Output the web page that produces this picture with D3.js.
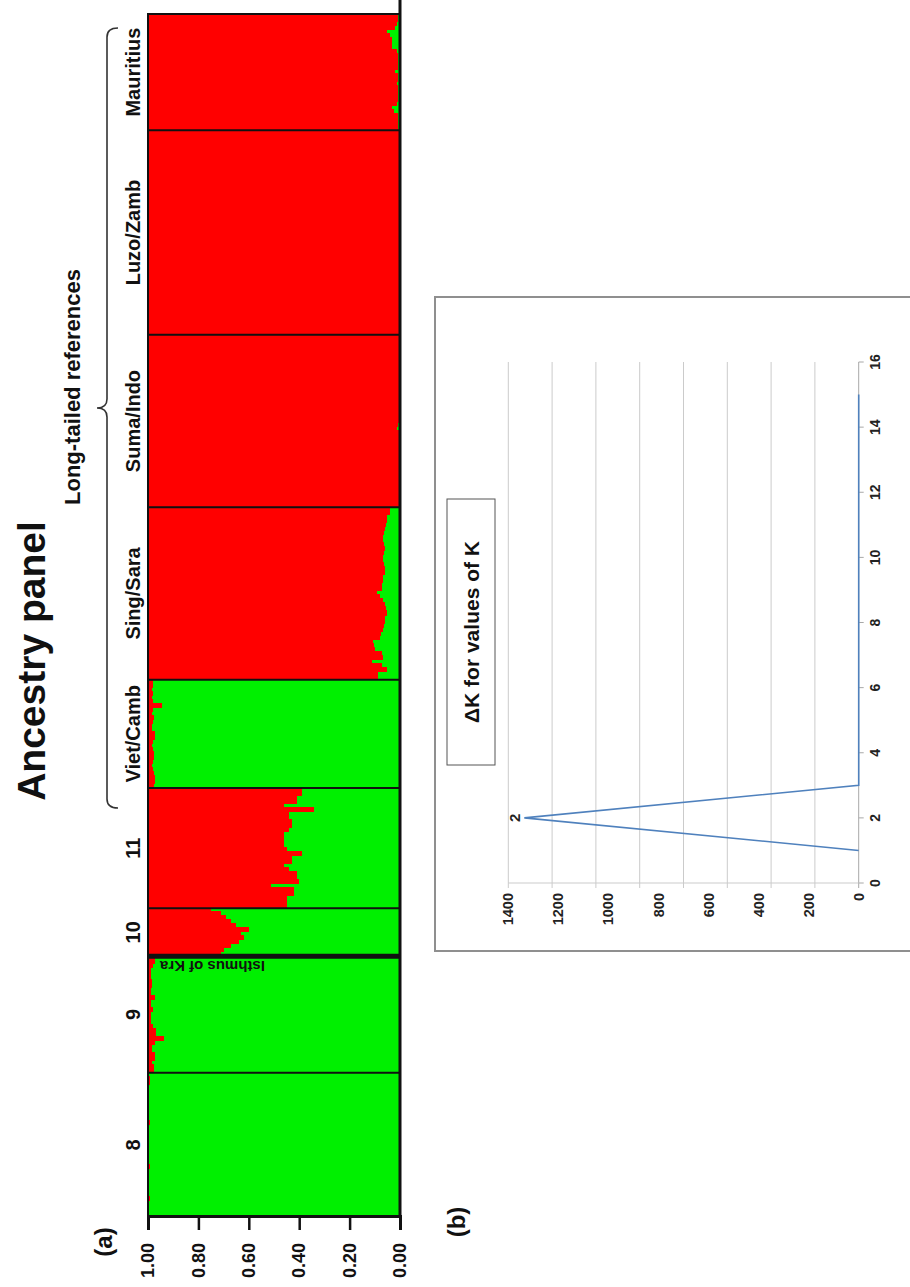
<!DOCTYPE html>
<html>
<head>
<meta charset="utf-8">
<script src="https://cdn.jsdelivr.net/npm/d3@7"></script>
<style>
  body { margin: 0; background: #fff; }
  svg { display: block; }
  text { font-family: "Liberation Sans", Arial, Helvetica, sans-serif; }
</style>
</head>
<body>
<svg id="fig" width="910" height="1287"></svg>
<script>
// ---------------------------------------------------------------
// (a) STRUCTURE, K = 2: share of each individual assigned to the
//     red cluster (the rest belongs to the green cluster)
// ---------------------------------------------------------------
const populations = ["8", "9", "10", "11", "Viet/Camb", "Sing/Sara", "Suma/Indo", "Luzo/Zamb", "Mauritius"];

const pop8 = [0.004,0.005,0.004,0.003,0.006,0.004,0.004,0.005,0.003,0.004,
  0.005,0.004,0.006,0.004,0.003,0.004,0.005,0.004,0.004,0.003,
  0.005,0.004,0.004,0.006,0.004,0.003,0.004,0.005,0.004,0.004,
  0.003,0.005,0.004,0.006,0.008,0.005];
const pop9 = [0.024,0.024,0.015,0.028,0.028,0.015,0.015,0.028,0.065,0.032,
  0.032,0.021,0.011,0.011,0.011,0.019,0.011,0.011,0.028,0.011,
  0.011,0.015,0.015,0.011,0.011,0.011,0.019,0.028,0.028];
const pop10 = [0.29,0.30,0.33,0.36,0.38,0.37,0.40,0.35,0.33,0.31,0.29,0.25];
const pop11 = [0.55,0.55,0.55,0.58,0.58,0.49,0.60,0.59,0.59,0.56,
  0.54,0.57,0.57,0.61,0.55,0.54,0.54,0.54,0.54,0.56,
  0.57,0.57,0.56,0.56,0.66,0.54,0.59,0.59,0.61,0.61];
const vietCamb = [0.024,0.028,0.028,0.024,0.019,0.015,0.019,0.024,0.024,0.019,
  0.015,0.019,0.028,0.028,0.015,0.015,0.019,0.024,0.015,0.019,
  0.054,0.019,0.015,0.019,0.015,0.019,0.019];
const singSara = [0.914,0.914,0.947,0.927,0.888,0.934,0.930,0.901,0.897,0.894,
  0.921,0.925,0.934,0.937,0.940,0.940,0.947,0.945,0.940,0.934,
  0.920,0.907,0.927,0.930,0.934,0.934,0.940,0.940,0.937,0.934,
  0.934,0.937,0.940,0.937,0.934,0.934,0.937,0.940,0.945,0.950,
  0.950,0.960,0.960];
const sumaIndo = [0.997,0.998,0.997,0.996,0.998,0.997,0.997,0.998,0.996,0.997,
  0.998,0.997,0.997,0.996,0.998,0.997,0.997,0.998,0.995,0.988,
  0.993,0.997,0.998,0.997,0.996,0.997,0.998,0.997,0.997,0.996,
  0.998,0.997,0.997,0.998,0.997,0.996,0.997,0.998,0.997,0.997,
  0.996,0.998,0.997];
const luzoZamb = [0.998,0.998,0.997,0.998,0.999,0.998,0.998,0.997,0.998,0.998,
  0.999,0.998,0.998,0.997,0.998,0.998,0.999,0.998,0.998,0.997,
  0.998,0.998,0.999,0.998,0.998,0.997,0.998,0.998,0.999,0.998,
  0.998,0.997,0.998,0.998,0.999,0.998,0.998,0.997,0.998,0.998,
  0.999,0.998,0.998,0.997,0.998,0.998,0.999,0.998,0.998,0.997,
  0.998];
const mauritius = [0.992,0.992,0.992,0.992,0.975,0.967,0.988,0.992,0.992,0.992,
  0.992,0.988,0.992,0.992,0.980,0.992,0.992,0.992,0.992,0.988,
  0.970,0.970,0.967,0.960,0.947,0.980,0.988,0.992,0.992];

const redShare = [pop8, pop9, pop10, pop11, vietCamb, singSara, sumaIndo, luzoZamb, mauritius];
const ancestryTicks = [0, 0.2, 0.4, 0.6, 0.8, 1.0];

// ---------------------------------------------------------------
// (b) Evanno delta K for each K
// ---------------------------------------------------------------
const kValues = [1, 2, 3, 4, 5, 6, 7, 8, 9, 10, 11, 12, 13, 14, 15];
const deltaK  = [0, 1336, 0, 0, 0, 0, 0, 0, 0, 0, 0, 0, 0, 0, 0];
const kTicks = [0, 2, 4, 6, 8, 10, 12, 14, 16];
const deltaKTicks = [0, 200, 400, 600, 800, 1000, 1200, 1400];
const deltaKGrid = [0, 175, 350, 525, 700, 875, 1050, 1225, 1400];

// ---------------------------------------------------------------
// The figure is laid out landscape (1287 x 910) and turned a
// quarter turn counter-clockwise onto the portrait page.
// ---------------------------------------------------------------
const PAGE_H = 1287;
const RED = "#ff0000", GREEN = "#00f000";
const svg = d3.select("#fig");
const fig = svg.append("g").attr("transform", `translate(0,${PAGE_H}) rotate(-90)`);

// ===================== panel (a) ===============================
const individuals = [];
redShare.forEach((arr, p) => arr.forEach((v, i) => individuals.push({ pop: p, id: p + "-" + i, red: v })));

const xA = d3.scaleBand().domain(individuals.map(d => d.id)).range([70, 1273]).padding(0);
const yA = d3.scaleLinear().domain([0, 1]).range([400, 148]);

const bars = fig.append("g").attr("shape-rendering", "crispEdges");
bars.selectAll("rect.green").data(individuals).join("rect")
  .attr("class", "green")
  .attr("x", d => xA(d.id)).attr("width", xA.bandwidth() + 1)
  .attr("y", d => yA(1 - d.red)).attr("height", d => yA(0) - yA(1 - d.red))
  .attr("fill", GREEN);
bars.selectAll("rect.red").data(individuals).join("rect")
  .attr("class", "red")
  .attr("x", d => xA(d.id)).attr("width", xA.bandwidth() + 1)
  .attr("y", yA(1)).attr("height", d => yA(1 - d.red) - yA(1))
  .attr("fill", RED);

// population boundaries
const groupStart = populations.map((p, k) => xA(k + "-0"));
const groupEnd = populations.map((p, k) => xA(k + "-" + (redShare[k].length - 1)) + xA.bandwidth());
fig.append("g").selectAll("line").data(groupStart.slice(1)).join("line")
  .attr("x1", d => d).attr("x2", d => d)
  .attr("y1", yA(1)).attr("y2", yA(0))
  .attr("stroke", "#111")
  .attr("stroke-width", (d, i) => i === 1 ? 5 : 2);

// frame
fig.append("rect")
  .attr("x", 70).attr("y", yA(1)).attr("width", 1273 - 70).attr("height", yA(0) - yA(1))
  .attr("fill", "none").attr("stroke", "#111").attr("stroke-width", 2);
fig.append("line")
  .attr("x1", 70).attr("x2", 1290).attr("y1", yA(0)).attr("y2", yA(0))
  .attr("stroke", "#111").attr("stroke-width", 3);

// ancestry axis
const axA = fig.append("g").attr("transform", "translate(70,0)")
  .call(d3.axisLeft(yA).tickValues(ancestryTicks).tickFormat(d3.format(".2f")).tickSize(13).tickPadding(13));
axA.select(".domain").attr("stroke", "#111").attr("stroke-width", 3);
axA.selectAll(".tick line").attr("stroke", "#111").attr("stroke-width", 2.5);
axA.selectAll(".tick text").attr("font-size", 18).attr("font-weight", "bold").attr("fill", "#111");

// population labels
fig.append("g").selectAll("text").data(populations).join("text")
  .attr("x", (d, k) => (groupStart[k] + groupEnd[k]) / 2)
  .attr("y", 140)
  .attr("text-anchor", "middle")
  .attr("font-size", 20).attr("font-weight", "bold").attr("fill", "#111")
  .text(d => d);

// Isthmus of Kra marker along the 9 | 10 boundary
fig.append("text")
  .attr("transform", `translate(${groupStart[2] - 5},265) rotate(-90)`)
  .attr("font-size", 15).attr("font-weight", "bold").attr("fill", "#111")
  .text("Isthmus of Kra");

// brace over the long-tailed reference populations
const bx0 = groupStart[4] - 20, bx1 = groupEnd[8] - 14;
const bm = 879, bLine = 107, bEnd = 118, bTip = 97;
const brace = d3.path();
brace.moveTo(bx0, bEnd);
brace.quadraticCurveTo(bx0, bLine, bx0 + 9, bLine);
brace.lineTo(bm - 9, bLine);
brace.quadraticCurveTo(bm, bLine, bm, bTip);
brace.quadraticCurveTo(bm, bLine, bm + 9, bLine);
brace.lineTo(bx1 - 9, bLine);
brace.quadraticCurveTo(bx1, bLine, bx1, bEnd);
fig.append("path").attr("d", brace.toString())
  .attr("fill", "none").attr("stroke", "#333").attr("stroke-width", 1.6);

fig.append("text")
  .attr("x", 900).attr("y", 80).attr("text-anchor", "middle")
  .attr("font-size", 22).attr("font-weight", "bold").attr("fill", "#111")
  .text("Long-tailed references");

fig.append("text")
  .attr("x", 626).attr("y", 45).attr("text-anchor", "middle")
  .attr("font-size", 39).attr("font-weight", "bold").attr("fill", "#111")
  .text("Ancestry panel");

fig.append("text")
  .attr("x", 45).attr("y", 112).attr("text-anchor", "middle")
  .attr("font-size", 24).attr("font-weight", "bold").attr("fill", "#111")
  .text("(a)");

// ===================== panel (b) ===============================
fig.append("text")
  .attr("x", 65).attr("y", 465).attr("text-anchor", "middle")
  .attr("font-size", 24).attr("font-weight", "bold").attr("fill", "#111")
  .text("(b)");

fig.append("rect")
  .attr("x", 336).attr("y", 435).attr("width", 990 - 336).attr("height", 520)
  .attr("fill", "none").attr("stroke", "#8f8f8f").attr("stroke-width", 2);

const xK = d3.scaleLinear().domain([0, 16]).range([404, 925]);
const yD = d3.scaleLinear().domain([0, 1400]).range([858.7, 508.3]);

// gridlines and their short ticks
const grid = fig.append("g");
grid.selectAll("line.g").data(deltaKGrid).join("line")
  .attr("class", "g")
  .attr("x1", xK(0) - 5).attr("x2", xK(16))
  .attr("y1", d => yD(d)).attr("y2", d => yD(d))
  .attr("stroke", d => d === 0 ? "#a8a8a8" : "#cbcbcb").attr("stroke-width", 1);
grid.append("line")
  .attr("x1", xK(0)).attr("x2", xK(0)).attr("y1", yD(0)).attr("y2", yD(1400))
  .attr("stroke", "#cbcbcb").attr("stroke-width", 1);
grid.selectAll("line.k").data(kTicks).join("line")
  .attr("class", "k")
  .attr("x1", d => xK(d)).attr("x2", d => xK(d))
  .attr("y1", yD(0)).attr("y2", yD(0) + 5)
  .attr("stroke", "#a8a8a8").attr("stroke-width", 1);

// axis labels
fig.append("g").selectAll("text").data(kTicks).join("text")
  .attr("x", d => xK(d)).attr("y", 880).attr("text-anchor", "middle")
  .attr("font-size", 14).attr("font-weight", "bold").attr("fill", "#222")
  .text(d => d);
fig.append("g").selectAll("text").data(deltaKTicks).join("text")
  .attr("x", 394).attr("y", d => yD(d)).attr("dy", "0.35em").attr("text-anchor", "end")
  .attr("font-size", 14.5).attr("font-weight", "bold").attr("fill", "#222")
  .text(d => d);

// delta K line
const kPoints = kValues.map((k, i) => ({ k, v: deltaK[i] }));
fig.append("path").datum(kPoints)
  .attr("d", d3.line().x(d => xK(d.k)).y(d => yD(d.v)))
  .attr("fill", "none").attr("stroke", "#4f81bd").attr("stroke-width", 1.6);

// label on the peak
const peak = kPoints.reduce((a, b) => (b.v > a.v ? b : a));
fig.append("text")
  .attr("x", xK(peak.k)).attr("y", yD(peak.v) - 4).attr("text-anchor", "middle")
  .attr("font-size", 15).attr("font-weight", "bold").attr("fill", "#222")
  .text(peak.k);

// chart title box
fig.append("rect")
  .attr("x", 522).attr("y", 447).attr("width", 788 - 522).attr("height", 48)
  .attr("fill", "#fff").attr("stroke", "#555").attr("stroke-width", 1);
fig.append("text")
  .attr("x", 655).attr("y", 479).attr("text-anchor", "middle")
  .attr("font-size", 21).attr("font-weight", "bold").attr("fill", "#111")
  .text("ΔK for values of K");
</script>
</body>
</html>
